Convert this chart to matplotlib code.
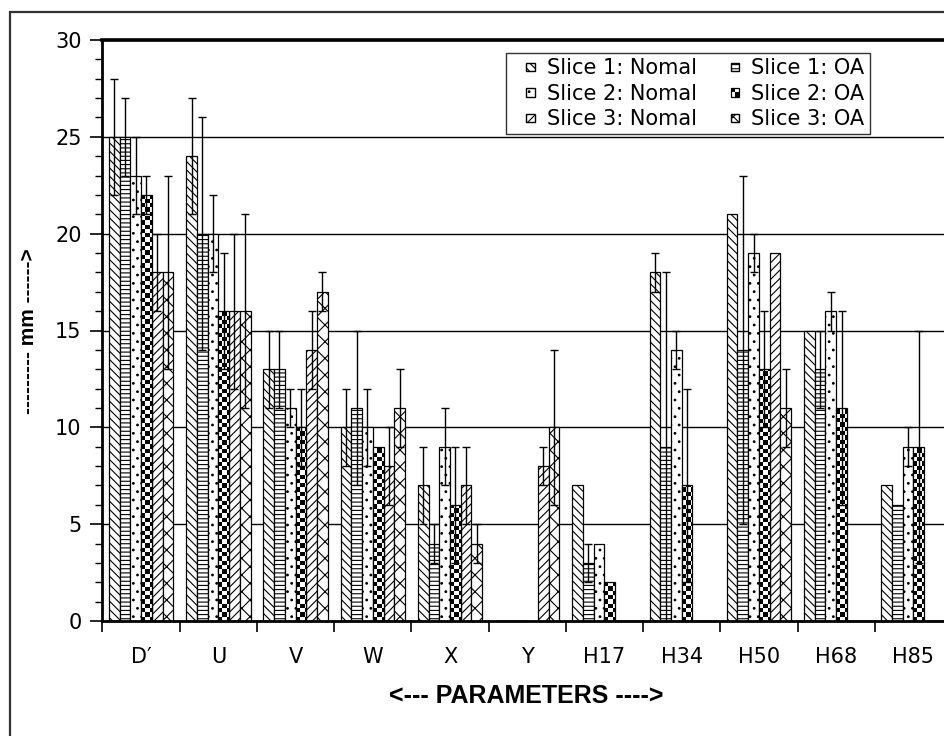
import numpy as np
import matplotlib
matplotlib.use("Agg")
import matplotlib.pyplot as plt
from matplotlib.patches import Rectangle, Patch
from matplotlib.legend_handler import HandlerPatch
from matplotlib.ticker import MultipleLocator

# parameter values (mm) with their standard deviations
params = ["D\u2032", "U", "V", "W", "X", "Y", "H17", "H34", "H50", "H68", "H85"]

s1_normal = [25, 24, 13, 10, 7, 0, 7, 18, 21, 15, 7]
s1_normal_err = [3, 3, 2, 2, 2, 0, 0, 1, 0, 0, 0]
s1_oa = [25, 20, 13, 11, 4, 0, 3, 9, 14, 13, 6]
s1_oa_err = [2, 6, 2, 4, 1, 0, 1, 9, 9, 2, 0]
s2_normal = [23, 20, 11, 10, 9, 0, 4, 14, 19, 16, 9]
s2_normal_err = [2, 2, 1, 2, 2, 0, 0, 1, 1, 1, 1]
s2_oa = [22, 16, 10, 9, 6, 0, 2, 7, 13, 11, 9]
s2_oa_err = [1, 3, 2, 0, 3, 0, 0, 5, 3, 5, 6]
s3_normal = [18, 16, 14, 8, 7, 8, 0, 0, 19, 0, 0]
s3_normal_err = [2, 4, 2, 2, 2, 1, 0, 0, 0, 0, 0]
s3_oa = [18, 16, 17, 11, 4, 10, 0, 0, 11, 0, 0]
s3_oa_err = [5, 5, 1, 2, 1, 4, 0, 0, 2, 0, 0]

series = [
    ("Slice 1: Nomal", s1_normal, s1_normal_err, "\\\\\\\\"),
    ("Slice 1: OA", s1_oa, s1_oa_err, "----"),
    ("Slice 2: Nomal", s2_normal, s2_normal_err, ".."),
    ("Slice 2: OA", s2_oa, s2_oa_err, "checker"),
    ("Slice 3: Nomal", s3_normal, s3_normal_err, "////"),
    ("Slice 3: OA", s3_oa, s3_oa_err, "xx"),
]

plt.rcParams["font.family"] = "DejaVu Sans"
plt.rcParams["hatch.linewidth"] = 0.8

W, H = 945, 736
fig = plt.figure(figsize=(W / 100, H / 100), dpi=100)
# plot area runs a bit past the right edge of the figure
ax = fig.add_axes([102.5 / W, 1 - 621 / H, (952 - 102.5) / W, (621 - 40) / H])

# outer chart frame
fig.patches.append(Rectangle((10 / W, -0.1), 1.2, 1 - 12 / H + 0.1, transform=fig.transFigure,
                             fill=False, edgecolor="#333333", linewidth=1.6))

x = np.arange(len(params))
bw = 0.139
start = 0.5 - 3 * bw
px_x = (952 - 102.5) / len(params)   # pixels per category
px_y = (621 - 40) / 30.0             # pixels per mm
sq = 4.3                              # checker square size in pixels


def checker_bars(ax, xs, vals):
    for x0, h in zip(xs, vals):
        if h <= 0:
            continue
        rect = Rectangle((x0, 0), bw, h, facecolor="white", edgecolor="none", zorder=2)
        ax.add_patch(rect)
        sqx, sqy = sq / px_x, sq / px_y
        nc = int(np.ceil(bw / sqx)) + 1
        nr = int(np.ceil(h / sqy)) + 1
        arr = np.indices((nr, nc)).sum(axis=0) % 2
        im = ax.imshow(arr, extent=(x0, x0 + nc * sqx, 0, nr * sqy), origin="lower",
                       cmap="gray", interpolation="nearest", aspect="auto", zorder=2.1)
        im.set_clip_path(rect)
        ax.add_patch(Rectangle((x0, 0), bw, h, fill=False, edgecolor="black",
                               linewidth=0.9, zorder=2.2))


handles = []
for i, (label, vals, errs, hatch) in enumerate(series):
    xs = x + start + i * bw
    if hatch == "checker":
        checker_bars(ax, xs, vals)
        handles.append(Patch(facecolor="white", edgecolor="black", label=label))
    else:
        ax.bar(xs, vals, bw, align="edge", color="white", edgecolor="black",
               linewidth=0.9, hatch=hatch, zorder=2)
        handles.append(Patch(facecolor="white", edgecolor="black", hatch=hatch, label=label))
    ev = np.array(vals, dtype=float)
    ee = np.array(errs, dtype=float)
    m = ee > 0
    ax.errorbar(xs[m] + bw / 2, ev[m], yerr=ee[m], fmt="none", ecolor="black",
                elinewidth=1.0, capsize=2.6, capthick=1.0, zorder=3)

KEY = 6.0  # legend key size in points


def small_key(legend, orig_handle, xdescent, ydescent, width, height, fontsize):
    return Rectangle((-xdescent + width - KEY, -ydescent + (height - KEY) / 2), KEY, KEY)


class CheckerHandler:
    def legend_artist(self, legend, orig_handle, fontsize, handlebox):
        x0 = handlebox.xdescent + handlebox.width - KEY
        y0 = handlebox.ydescent + (handlebox.height - KEY) / 2
        tr = handlebox.get_transform()
        for r in range(2):
            for c in range(2):
                col = "black" if (r + c) % 2 == 1 else "white"
                handlebox.add_artist(Rectangle((x0 + c * KEY / 2, y0 + r * KEY / 2), KEY / 2, KEY / 2,
                                               facecolor=col, edgecolor="none", transform=tr))
        box = Rectangle((x0, y0), KEY, KEY, fill=False, edgecolor="black", linewidth=0.9, transform=tr)
        handlebox.add_artist(box)
        return box


hmap = {h: HandlerPatch(patch_func=small_key) for h in handles}
hmap[handles[3]] = CheckerHandler()

# legend: normal slices in the first column, OA slices in the second
order = [0, 2, 4, 1, 3, 5]
leg = ax.legend([handles[k] for k in order], [series[k][0] for k in order],
                handler_map=hmap, ncol=2, loc="upper left", bbox_to_anchor=(0.4745, 0.9775),
                fontsize=15, frameon=True, fancybox=False, edgecolor="black",
                handlelength=1.15, handleheight=0.7, handletextpad=0.6,
                columnspacing=0.85, labelspacing=0.26, borderpad=0.25, borderaxespad=0)
leg.get_frame().set_linewidth(1.0)
leg.set_zorder(5)

ax.set_xlim(0, len(params))
ax.set_ylim(0, 30)
ax.yaxis.set_major_locator(MultipleLocator(5))
ax.yaxis.set_minor_locator(MultipleLocator(1))
ax.grid(axis="y", color="black", linewidth=1.0, zorder=0.5)
ax.set_axisbelow(True)

ax.set_xticks(np.arange(len(params) + 1))
ax.set_xticklabels([])
ax.set_xticks(x + 0.5, minor=True)
ax.set_xticklabels(params, minor=True, fontsize=15)
ax.tick_params(axis="x", which="major", direction="out", length=8, width=1.2)
ax.tick_params(axis="x", which="minor", length=0, pad=19)
ax.tick_params(axis="y", which="major", direction="out", length=9, width=1.2, labelsize=15, pad=6)
ax.tick_params(axis="y", which="minor", direction="out", length=5, width=1.0)

for side, lw in [("left", 2.0), ("bottom", 2.0), ("top", 2.6)]:
    ax.spines[side].set_linewidth(lw)
ax.spines["right"].set_visible(False)

fig.text(526 / W, 1 - 696 / H, "<--- PARAMETERS ---->", ha="center", va="center",
         fontsize=18, fontweight="bold", family="Liberation Sans")
fig.text(29 / W, 1 - 331 / H, "--------- mm ------>", ha="center", va="center", rotation=90,
         fontsize=15, fontweight="bold", family="Liberation Sans")

fig.savefig("out.png", dpi=100)
